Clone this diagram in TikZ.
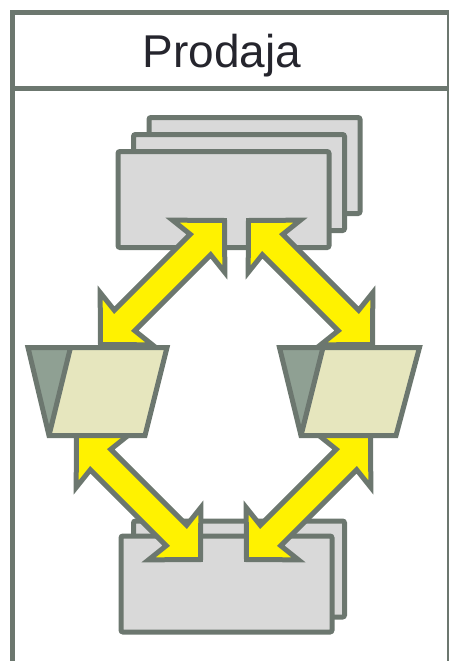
\documentclass[tikz,border=0pt]{standalone}
\usepackage{fontspec}
\setmainfont{Liberation Sans}
\usetikzlibrary{calc}

\definecolor{edgegray}{RGB}{108,119,111}
\definecolor{boxgray}{RGB}{217,217,217}
\definecolor{folderlight}{RGB}{230,230,190}
\definecolor{folderdark}{RGB}{143,160,147}
\definecolor{titleink}{RGB}{37,37,45}

% geometry of the double-headed block arrows
\newcommand\fatheadlen{36.5pt}
\newcommand\fatnotchlen{34pt}
\newcommand\fatheadhalf{37pt}
\newcommand\fatshafthalf{14.5pt}

% double-headed block arrow between two named tip coordinates
\newcommand\dblarrow[2]{%
  \draw[fatarrow] (#1)
    -- ($(#1)!\fatheadlen!(#2)!\fatheadhalf!90:(#2)$)
    -- ($(#1)!\fatnotchlen!(#2)!\fatshafthalf!90:(#2)$)
    -- ($(#2)!\fatnotchlen!(#1)!\fatshafthalf!-90:(#1)$)
    -- ($(#2)!\fatheadlen!(#1)!\fatheadhalf!-90:(#1)$)
    -- (#2)
    -- ($(#2)!\fatheadlen!(#1)!\fatheadhalf!90:(#1)$)
    -- ($(#2)!\fatnotchlen!(#1)!\fatshafthalf!90:(#1)$)
    -- ($(#1)!\fatnotchlen!(#2)!\fatshafthalf!-90:(#2)$)
    -- ($(#1)!\fatheadlen!(#2)!\fatheadhalf!-90:(#2)$)
    -- cycle;}

\begin{document}
\begin{tikzpicture}[x=1pt, y=-1pt,
  frameline/.style={draw=edgegray, line width=5pt},
  sheet/.style={draw=edgegray, fill=boxgray, line width=5pt, rounded corners=2pt,
    minimum width=211pt, minimum height=96pt, inner sep=0pt, outer sep=0pt},
  fatarrow/.style={draw=edgegray, fill=yellow, line width=5pt, line join=miter},
  folderedge/.style={draw=edgegray, line width=5pt, line join=miter}]

\useasboundingbox (0,0) rectangle (449,661);

% frame and header
\draw[frameline] (12.5,12.5) rectangle (449.5,663);
\draw[frameline] (12.5,88) -- (449.5,88);
\node[font=\fontsize{46}{52}\selectfont, text=titleink, anchor=base] (title) at (222,67) {Prodaja};

% upper stack of sheets
\node[sheet] (topback) at (254.5,165.5) {};
\node[sheet] (topmid) at (239,182.5) {};
\node[sheet] (topfront) at (223.5,199.5) {};

% lower stack of sheets
\node[sheet] (botback) at (239,569) {};
\node[sheet] (botfront) at (226.5,584) {};

% arrow tips
\coordinate (a1p) at (100.5,344.5);
\coordinate (a1q) at (224.5,220.5);
\coordinate (a2p) at (248.5,220.5);
\coordinate (a2q) at (372.5,344.5);
\coordinate (a3p) at (76.5,435.5);
\coordinate (a3q) at (200.5,559.5);
\coordinate (a4p) at (370.5,435.5);
\coordinate (a4q) at (246.5,559.5);

\dblarrow{a1p}{a1q}
\dblarrow{a2p}{a2q}
\dblarrow{a3p}{a3q}
\dblarrow{a4p}{a4q}

% left folder
\coordinate (lf1) at (28,347.5);
\coordinate (lf2) at (167,347.5);
\coordinate (lf3) at (145,435.5);
\coordinate (lf4) at (49,435.5);
\coordinate (lfs) at (70.5,347.5);
\fill[folderlight] (lfs) -- (lf2) -- (lf3) -- (lf4) -- cycle;
\fill[folderdark] (lf1) -- (lfs) -- (lf4) -- cycle;
\draw[folderedge] (lf1) -- (lf2) -- (lf3) -- (lf4) -- cycle (lfs) -- (lf4);

% right folder
\coordinate (rf1) at (279.5,347.5);
\coordinate (rf2) at (419.5,347.5);
\coordinate (rf3) at (396,435.5);
\coordinate (rf4) at (301,435.5);
\coordinate (rfs) at (323,347.5);
\fill[folderlight] (rfs) -- (rf2) -- (rf3) -- (rf4) -- cycle;
\fill[folderdark] (rf1) -- (rfs) -- (rf4) -- cycle;
\draw[folderedge] (rf1) -- (rf2) -- (rf3) -- (rf4) -- cycle (rfs) -- (rf4);

\end{tikzpicture}
\end{document}
